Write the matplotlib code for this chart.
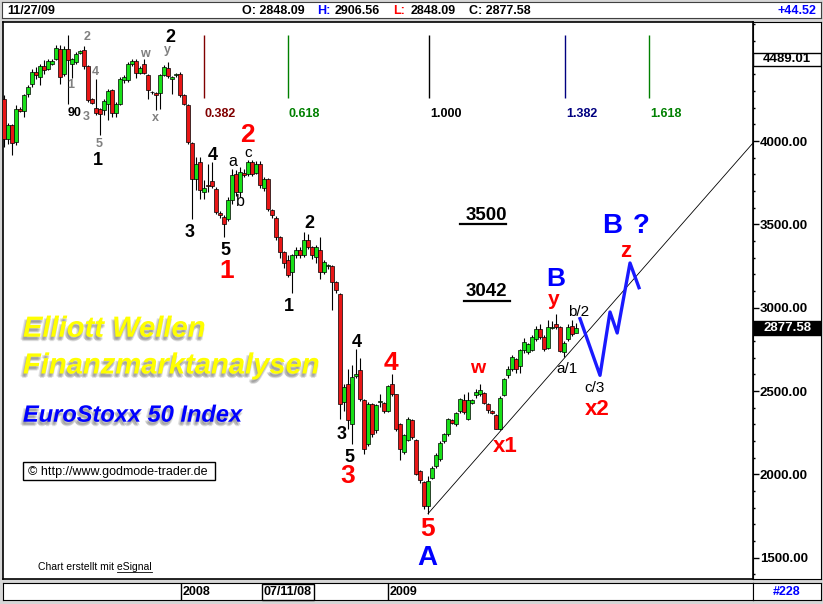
import matplotlib.pyplot as plt
import matplotlib.patheffects as pe
from matplotlib.patches import Rectangle
from matplotlib.lines import Line2D
from matplotlib.transforms import Affine2D, blended_transform_factory
import numpy as np

plt.rcParams['font.family'] = ['Liberation Sans', 'DejaVu Sans']

# EuroStoxx 50, weekly candles Feb 2007 - Nov 2009
opens = [4250, 4014, 4098, 3994, 4194, 4180, 4280, 4340, 4414, 4384,
         4452, 4434, 4464, 4494, 4554, 4400, 4554, 4460, 4474, 4528,
         4548, 4448, 4250, 4200, 4194, 4184, 4224, 4304, 4168, 4224,
         4364, 4364, 4464, 4480, 4410, 4460, 4398, 4296, 4288, 4288,
         4398, 4440, 4370, 4394, 4404, 4274, 4218, 3990, 3770, 3874,
         3694, 3734, 3758, 3714, 3566, 3544, 3530, 3644, 3800, 3694,
         3808, 3800, 3874, 3808, 3864, 3720, 3774, 3588, 3540, 3424,
         3334, 3288, 3214, 3314, 3344, 3314, 3408, 3364, 3304, 3348,
         3214, 3250, 3248, 3154, 3080, 2434, 2544, 2300, 2590, 2628,
         2448, 2180, 2424, 2268, 2434, 2428, 2380, 2544, 2480, 2300,
         2134, 2208, 2328, 2208, 2020, 1954, 1808, 1980, 2048, 2094,
         2200, 2244, 2328, 2300, 2380, 2444, 2334, 2430, 2474, 2484,
         2488, 2424, 2378, 2354, 2274, 2478, 2594, 2634, 2694, 2648,
         2744, 2734, 2748, 2814, 2874, 2824, 2760, 2880, 2900, 2884,
         2734, 2814, 2888, 2848.09]
highs = [4274, 4110, 4104, 4214, 4204, 4284, 4334, 4434, 4444, 4464,
         4484, 4490, 4490, 4574, 4574, 4570, 4634, 4500, 4534, 4546,
         4568, 4454, 4256, 4374, 4200, 4250, 4310, 4314, 4234, 4384,
         4394, 4474, 4494, 4490, 4450, 4494, 4404, 4300, 4294, 4404,
         4454, 4474, 4390, 4410, 4414, 4280, 4224, 3996, 3904, 3904,
         3764, 3864, 3874, 3724, 3580, 3556, 3664, 3834, 3824, 3844,
         3830, 3888, 3888, 3880, 3880, 3784, 3780, 3594, 3548, 3430,
         3340, 3314, 3324, 3364, 3364, 3454, 3440, 3370, 3374, 3424,
         3284, 3264, 3254, 3160, 3090, 2540, 2634, 2654, 2754, 2698,
         2450, 2434, 2430, 2420, 2480, 2434, 2534, 2604, 2484, 2310,
         2244, 2344, 2334, 2214, 2024, 1960, 1990, 2050, 2130, 2200,
         2250, 2340, 2334, 2374, 2460, 2484, 2494, 2450, 2510, 2540,
         2494, 2430, 2384, 2360, 2470, 2580, 2650, 2714, 2700, 2754,
         2820, 2790, 2834, 2890, 2900, 2834, 2924, 2920, 2964, 2890,
         2800, 2900, 2924, 2906.56]
lows = [3964, 3980, 3914, 3974, 4174, 4144, 4264, 4324, 4374, 4334,
        4404, 4424, 4456, 4484, 4344, 4390, 4224, 4380, 4464, 4520,
        4434, 4236, 4220, 4154, 4034, 4154, 4124, 4144, 4144, 4214,
        4350, 4354, 4450, 4380, 4400, 4400, 4250, 4280, 4184, 4194,
        4390, 4380, 4284, 4384, 4264, 4214, 3984, 3534, 3704, 3654,
        3654, 3694, 3720, 3560, 3540, 3424, 3520, 3620, 3670, 3664,
        3784, 3790, 3790, 3800, 3720, 3700, 3580, 3540, 3404, 3300,
        3240, 3184, 3088, 3300, 3300, 3304, 3350, 3290, 3270, 3174,
        3200, 3230, 2984, 3090, 2334, 2380, 2274, 2184, 2580, 2440,
        2124, 2170, 2224, 2250, 2404, 2370, 2374, 2470, 2260, 2084,
        2124, 2200, 2214, 1994, 1950, 1790, 1764, 1970, 2040, 2080,
        2190, 2230, 2300, 2290, 2370, 2364, 2324, 2420, 2460, 2470,
        2420, 2370, 2360, 2270, 2264, 2470, 2580, 2620, 2610, 2610,
        2730, 2720, 2740, 2800, 2810, 2740, 2750, 2874, 2874, 2734,
        2704, 2800, 2830, 2848.09]
closes = [4014, 4094, 3988, 4194, 4180, 4274, 4324, 4414, 4394, 4448,
          4428, 4480, 4480, 4560, 4384, 4554, 4484, 4494, 4524, 4540,
          4448, 4244, 4230, 4168, 4160, 4240, 4298, 4168, 4224, 4374,
          4384, 4464, 4480, 4410, 4438, 4410, 4304, 4292, 4274, 4398,
          4444, 4388, 4384, 4404, 4274, 4224, 3994, 3774, 3864, 3704,
          3720, 3730, 3728, 3574, 3554, 3504, 3644, 3794, 3694, 3814,
          3794, 3874, 3804, 3864, 3734, 3774, 3594, 3558, 3424, 3334,
          3270, 3194, 3314, 3348, 3314, 3408, 3364, 3314, 3364, 3214,
          3274, 3254, 3154, 3108, 2420, 2524, 2328, 2584, 2600, 2454,
          2154, 2420, 2244, 2414, 2434, 2378, 2528, 2484, 2274, 2154,
          2234, 2334, 2224, 2004, 1968, 1808, 1960, 2040, 2114, 2188,
          2240, 2334, 2308, 2368, 2454, 2374, 2444, 2444, 2494, 2504,
          2428, 2384, 2370, 2274, 2460, 2574, 2634, 2704, 2634, 2744,
          2794, 2784, 2824, 2874, 2824, 2754, 2884, 2886, 2884, 2740,
          2788, 2884, 2840, 2877.58]

# projected path (blue), in weeks / index points
proj_x = [144, 146.5, 149, 151.5, 153.3, 156.5, 158.75]
proj_y = [2934, 2764, 2594, 2974, 2848, 3268, 3120]

# trend line from the march 2009 low
trend_x = [106, 187.25]
trend_y = [1764, 3988]

# fibonacci time lines
fib_labels = ['0.382', '0.618', '1.000', '1.382', '1.618']
fib_x = [50, 71, 106.25, 140.25, 161.25]
fib_colors = ['#800000', '#008000', '#000000', '#000080', '#008000']

price_ticks = [1500, 2000, 2500, 3000, 3500, 4000]
last_close = 2877.58
top_marker = 4489.01

W, H = 823, 604
fig = plt.figure(figsize=(W / 100, H / 100), dpi=100, facecolor='#d6d6d6')
pix = Affine2D().scale(1 / W, -1 / H).translate(0, 1) + fig.transFigure


def px_box(x0, y0, x1, y1):
    return [x0 / W, 1 - y1 / H, (x1 - x0) / W, (y1 - y0) / H]


ymin, ymax = 1372, 4714
xmin, xmax = -0.25, 187.25

#
# main chart
ax = fig.add_axes(px_box(3, 22, 753, 579))
ax.set_xlim(xmin, xmax)
ax.set_ylim(ymin, ymax)
ax.set_xticks([])
ax.set_yticks([])
for s in ax.spines.values():
    s.set_linewidth(1.2)

o, h, l, c = np.array(opens), np.array(highs), np.array(lows), np.array(closes)
x = np.arange(len(o))
ax.vlines(x, l, h, color='black', lw=0.8, zorder=2)
ax.bar(x, np.maximum(np.abs(c - o), 5), bottom=np.minimum(o, c), width=0.8,
       color=np.where(c >= o, '#18e018', '#e81616'), edgecolor='black', lw=0.5, zorder=3)

ax.plot(trend_x, trend_y, color='black', lw=0.6, zorder=4)
ax.plot(proj_x, proj_y, color='#1a1aff', lw=2.4, zorder=5)

ax.vlines(fib_x, 4256, 4634, colors=fib_colors, lw=1)
for fx, lab, col in zip(fib_x, fib_labels, fib_colors):
    ax.text(fx + 0.25, 4146, lab, color=col, fontsize=9, fontweight='bold', va='baseline')

#
# wave labels (pixel positions, baseline)
labels = [
    (86.7, 40.5, '2', '#808080', 9, 'bold'), (95, 75, '4', '#808080', 9, 'bold'),
    (71, 88, '1', '#808080', 9, 'bold'), (75, 116, '90', 'black', 9, 'bold'),
    (86.7, 119.5, '3', '#808080', 9, 'bold'), (99, 147, '5', '#808080', 9, 'bold'),
    (145, 57, 'w', '#808080', 9, 'bold'), (167.7, 53.5, 'y', '#808080', 9, 'bold'),
    (155.7, 120.7, 'x', '#808080', 9, 'bold'),
    (97.7, 164.8, '1', 'black', 13, 'bold'), (170, 41.7, '2', 'black', 13, 'bold'),
    (212.7, 160, '4', 'black', 13, 'bold'), (189.3, 236.7, '3', 'black', 13, 'bold'),
    (225, 255, '5', 'black', 13, 'bold'), (309.3, 228.3, '2', 'black', 13, 'bold'),
    (289.3, 310.7, '1', 'black', 13, 'bold'), (356.7, 346.7, '4', 'black', 13, 'bold'),
    (341.7, 439.3, '3', 'black', 13, 'bold'), (349.3, 461.7, '5', 'black', 13, 'bold'),
    (232.7, 166, 'a', 'black', 11.5, 'normal'), (248.3, 157, 'c', 'black', 11, 'normal'),
    (240.7, 206, 'b', 'black', 11.5, 'normal'),
    (247.3, 141.5, '2', 'red', 19, 'bold'), (226.7, 278.3, '1', 'red', 19, 'bold'),
    (347.5, 483.3, '3', 'red', 19, 'bold'), (390.7, 370, '4', 'red', 19, 'bold'),
    (427.5, 536, '5', 'red', 19, 'bold'), (427.5, 565, 'A', '#0000ff', 20, 'bold'),
    (477.7, 373.3, 'w', 'red', 14, 'bold'), (505, 451.7, 'x1', 'red', 16, 'bold'),
    (555.8, 286.5, 'B', '#0000ff', 19, 'bold'), (554, 305, 'y', 'red', 15, 'bold'),
    (579, 316, 'b/2', 'black', 11, 'normal'), (567, 372.7, 'a/1', 'black', 11, 'normal'),
    (595, 391.7, 'c/3', 'black', 11, 'normal'), (597.5, 415, 'x2', 'red', 16, 'bold'),
    (611.7, 233.3, 'B', '#0000ff', 20, 'bold'), (641.7, 233.3, '?', '#0000ff', 20, 'bold'),
    (626, 256.7, 'z', 'red', 16, 'bold'),
]
for lx, ly, txt, col, size, weight in labels:
    ax.text(lx, ly, txt, transform=pix, color=col, fontsize=size, fontweight=weight,
            ha='center', va='baseline', zorder=6)

# targets
ax.text(486, 220, '3500', transform=pix, fontsize=13.5, fontweight='bold', ha='center', va='baseline')
ax.text(486, 296, '3042', transform=pix, fontsize=13.5, fontweight='bold', ha='center', va='baseline')
ax.add_line(Line2D([460, 506], [223.5, 223.5], transform=pix, color='black', lw=1.6))
ax.add_line(Line2D([464, 510], [300.5, 300.5], transform=pix, color='black', lw=1.6))

# title block
shadow = [pe.SimplePatchShadow(offset=off, shadow_rgbFace='#7a7a7a', alpha=0.22)
          for off in [(-0.5, -1.5), (-1.5, -2.5), (-1, -3.2), (0, -2.5), (-2.2, -2)]] + [pe.Normal()]
ax.text(23, 336.7, 'Elliott Wellen', transform=pix, fontsize=21, fontweight='bold', style='italic',
        color='#ffff00', va='baseline', path_effects=shadow, zorder=7)
ax.text(23, 373.5, 'Finanzmarktanalysen', transform=pix, fontsize=21, fontweight='bold',
        style='italic', color='#ffff00', va='baseline', path_effects=shadow, zorder=7)
ax.text(23, 421.7, 'EuroStoxx 50 Index', transform=pix, fontsize=17, fontweight='bold',
        style='italic', color='#0000ff', va='baseline', path_effects=shadow, zorder=7)

ax.add_patch(Rectangle((23, 462), 192, 18, transform=pix, facecolor='white',
                       edgecolor='black', lw=1, zorder=7))
ax.text(28, 471.5, '\u00a9 http://www.godmode-trader.de', transform=pix, fontsize=9,
        va='center', zorder=8)
ax.text(38, 570, 'Chart erstellt mit eSignal', transform=pix, fontsize=7.5, va='baseline')
ax.add_line(Line2D([117, 152], [572, 572], transform=pix, color='black', lw=0.6))

#
# price scale
ax2 = fig.add_axes(px_box(753, 22, 821, 579))
ax2.set_xlim(0, 1)
ax2.set_ylim(ymin, ymax)
ax2.set_xticks([])
ax2.set_yticks(price_ticks)
ax2.set_yticklabels([f'{v:.2f}' for v in price_ticks])
ax2.set_yticks(np.arange(1400, 4701, 100), minor=True)
ax2.tick_params(axis='y', which='major', direction='in', length=4, width=1, pad=-5, labelsize=9.5)
ax2.tick_params(axis='y', which='minor', direction='in', length=1.5, width=1)
for lbl in ax2.get_yticklabels():
    lbl.set_horizontalalignment('left')
    lbl.set_fontweight('bold')
blend = blended_transform_factory(ax2.transAxes, ax2.transData)
ax2.add_patch(Rectangle((0, top_marker - 40), 1, 80, transform=blend, facecolor='white',
                        edgecolor='black', lw=1, zorder=4))
ax2.text(0.5, top_marker, f'{top_marker:.2f}', transform=blend, ha='center', va='center',
         fontsize=9.5, fontweight='bold', zorder=5)
ax2.add_patch(Rectangle((0, last_close - 42), 1, 84, transform=blend, facecolor='black',
                        edgecolor='black', lw=1, zorder=4))
ax2.text(0.5, last_close, f'{last_close:.2f}', transform=blend, ha='center', va='center',
         fontsize=9.5, fontweight='bold', color='white', zorder=5)

#
# time axis
ax3 = fig.add_axes(px_box(3, 583, 753, 600))
ax3.set_xlim(xmin, xmax)
ax3.set_ylim(0, 1)
ax3.set_xticks([])
ax3.set_yticks([])
ax3.vlines([44.3, 96], 0, 1, color='black', lw=1)
ax3.text(44.6, 0.45, '2008', fontsize=9, fontweight='bold', va='center')
ax3.text(96.3, 0.45, '2009', fontsize=9, fontweight='bold', va='center')
ax3.text(71, 0.45, '07/11/08', fontsize=9, fontweight='bold', va='center', ha='center',
         bbox=dict(boxstyle='square,pad=0.15', facecolor='white', edgecolor='black', lw=1))

ax4 = fig.add_axes(px_box(753, 583, 821, 600))
ax4.set_xticks([])
ax4.set_yticks([])
ax4.text(0.5, 0.45, '#228', color='#0000ff', fontsize=9, fontweight='bold', ha='center', va='center')

#
# header
ax5 = fig.add_axes(px_box(2, 2, 821, 18))
ax5.set_xticks([])
ax5.set_yticks([])
for s in ax5.spines.values():
    s.set_color('#404040')
for hx, txt, col in [(7, '11/27/09', 'black'), (242, 'O: 2848.09', 'black'), (317, 'H:', '#0000ff'),
                     (335, '2906.56', 'black'), (393, 'L:', 'red'), (411, '2848.09', 'black'),
                     (469, 'C: 2877.58', 'black')]:
    fig.text(hx, 10.5, txt, transform=pix, color=col, fontsize=9, fontweight='bold', va='center')
fig.text(816, 10.5, '+44.52', transform=pix, color='#0000ff', fontsize=9, fontweight='bold',
         va='center', ha='right')

fig.savefig('out.png', dpi=100, facecolor=fig.get_facecolor())
